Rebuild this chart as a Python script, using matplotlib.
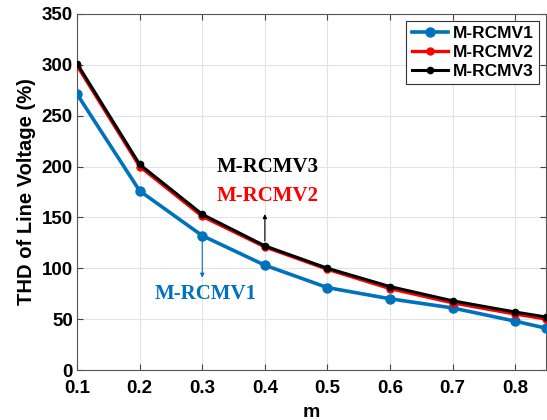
import numpy as np
import matplotlib
matplotlib.use("Agg")
import matplotlib.pyplot as plt

# Valori
m_vals = [0.1, 0.2, 0.3, 0.4, 0.5, 0.6, 0.7, 0.8, 0.85]
thd_v1 = [271, 176, 132, 103, 81, 70, 61, 48, 41]
thd_v2 = [299, 200, 151, 121, 99, 80, 66, 55, 50]
thd_v3 = [301, 202, 153, 122, 100, 82, 68, 57, 52]
labels = ["M-RCMV1", "M-RCMV2", "M-RCMV3"]
x_ticks = [0.1, 0.2, 0.3, 0.4, 0.5, 0.6, 0.7, 0.8]
y_ticks = [0, 50, 100, 150, 200, 250, 300, 350]

blue = "#0072BD"

plt.rcParams['font.family'] = ['Liberation Sans', 'DejaVu Sans']

fig = plt.figure(figsize=(5.47, 4.20), dpi=100)
ax = fig.add_axes([0.141, 0.119, 0.858, 0.848])

ax.plot(m_vals, thd_v1, color=blue, lw=2.6, marker="o", ms=6.5, label=labels[0], zorder=3)
ax.plot(m_vals, thd_v2, color="red", lw=2.4, marker="o", ms=5, label=labels[1], zorder=4)
ax.plot(m_vals, thd_v3, color="black", lw=2.2, marker="o", ms=4.5, label=labels[2], zorder=5)

ax.set_xlim(0.1, 0.85)
ax.set_ylim(0, 350)
ax.set_xticks(x_ticks)
ax.set_yticks(y_ticks)
ax.set_xticklabels([f"{v:.1f}" for v in x_ticks])
ax.grid(True, color="#e3e3e3", lw=0.8)
ax.set_axisbelow(True)
ax.tick_params(direction="in", top=True, right=True, labelsize=13.5, length=4, color="#444444")
ax.tick_params(axis="x", pad=7)
ax.tick_params(axis="y", pad=3)
for lab in ax.get_xticklabels() + ax.get_yticklabels():
    lab.set_fontweight("bold")
for s in ax.spines.values():
    s.set_color("#555555")
    s.set_linewidth(0.8)

ax.set_xlabel("m", fontsize=14, fontweight="bold", labelpad=5)
ax.set_ylabel("THD of Line Voltage (%)", fontsize=14.5, fontweight="bold", labelpad=4)

# Annotazioni con frecce
ax.annotate("", xy=(0.4, 156), xytext=(0.4, 124),
            arrowprops=dict(arrowstyle="-|>", color="black", lw=0.8, mutation_scale=6))
ax.annotate("", xy=(0.3, 88), xytext=(0.3, 130),
            arrowprops=dict(arrowstyle="-|>", color=blue, lw=0.8, mutation_scale=6))
ax.text(0.405, 200, "M-RCMV3", color="black", fontsize=15, fontweight="bold",
        family="Liberation Serif", ha="center", va="center")
ax.text(0.405, 171, "M-RCMV2", color="red", fontsize=15, fontweight="bold",
        family="Liberation Serif", ha="center", va="center")
ax.text(0.305, 75, "M-RCMV1", color=blue, fontsize=15, fontweight="bold",
        family="Liberation Serif", ha="center", va="center")

leg = ax.legend(loc="upper right", prop={"weight": "bold", "size": 12.5}, fancybox=False,
                edgecolor="#333333", framealpha=1, handlelength=2.1, borderpad=0.3,
                labelspacing=0.2, handletextpad=0.3, borderaxespad=0,
                bbox_to_anchor=(0.985, 0.98))
leg.get_frame().set_linewidth(0.8)

fig.savefig("out.png", dpi=100)
